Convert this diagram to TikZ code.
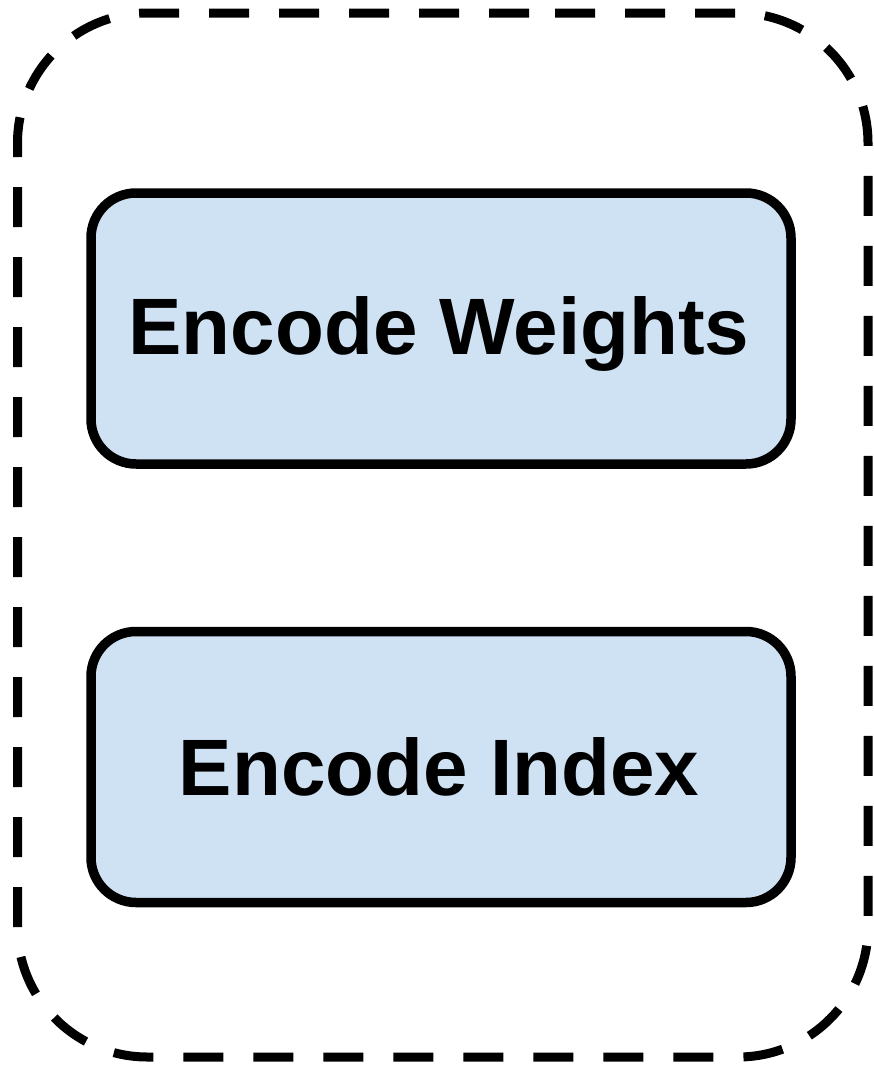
\documentclass[tikz,border=0pt]{standalone}
\usepackage{fontspec}
\setmainfont{Liberation Sans}
\definecolor{boxblue}{HTML}{CFE2F3}
\begin{document}
\begin{tikzpicture}[x=1pt,y=-1pt,
  outerbox/.style={draw=black,line width=9pt,dash pattern=on 40pt off 30pt,rounded corners=130pt},
  stagebox/.style={draw=black,fill=boxblue,line width=9.5pt,rounded corners=45pt,minimum width=700pt,minimum height=271pt,inner sep=0pt,outer sep=0pt},
  stagetext/.style={font=\bfseries\fontsize{80}{96}\selectfont,anchor=base,inner sep=0pt}]
\useasboundingbox (0,0) rectangle (873,1068);
\draw[outerbox] (425,13) -- (868,13) -- (868,1057) -- (17.5,1057) -- (17.5,13) -- cycle;
\node[stagebox] (w) at (441,328.5) {};
\node[stagebox] (i) at (441,767) {};
\node[stagetext] (wt) at (439,354) {Encode Weights};
\node[stagetext] (it) at (439,795) {Encode Index};
\end{tikzpicture}
\end{document}
